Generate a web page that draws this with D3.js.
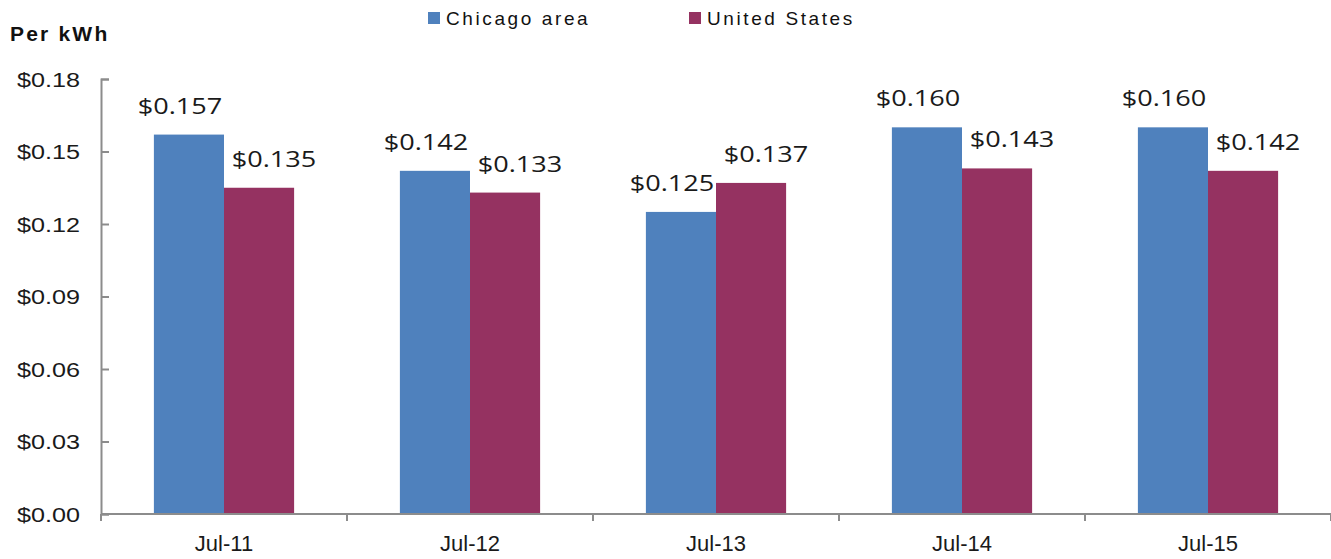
<!DOCTYPE html>
<html lang="en">
<head>
<meta charset="UTF-8" />
<title>Electricity price per kWh</title>
<script src="https://d3js.org/d3.v7.min.js"></script>
<style>
  body { margin: 0; background: #fff; }
  svg { display: block; }
  .axis text { font-family: "Liberation Sans", Arial, sans-serif; fill: #1a1a1a; }
  .axis path, .axis line { stroke: #8c8c8c; stroke-width: 2; }
</style>
</head>
<body>
<div id="chart"></div>
<script>
  const width = 1331;
  const height = 559;
  const marginLeft = 101;
  const marginRight = 0;
  const marginTop = 79;
  const marginBottom = 45;

  const categories = ["Jul-11", "Jul-12", "Jul-13", "Jul-14", "Jul-15"];
  const seriesNames = ["Chicago area", "United States"];
  const chicago = [0.157, 0.142, 0.125, 0.160, 0.160];
  const unitedStates = [0.135, 0.133, 0.137, 0.143, 0.142];
  const yTicks = [0, 0.03, 0.06, 0.09, 0.12, 0.15, 0.18];
  const colors = ["#4f81bd", "#953261"];

  const rows = categories.map((c, i) => ({ cat: c, values: [chicago[i], unitedStates[i]] }));

  const svg = d3.select("#chart").append("svg")
    .attr("width", width)
    .attr("height", height);

  const x = d3.scaleBand()
    .domain(categories)
    .range([marginLeft, width - marginRight])
    .paddingInner(0.43)
    .paddingOuter(0.215);

  const x1 = d3.scaleBand()
    .domain(seriesNames)
    .range([0, x.bandwidth()]);

  const y = d3.scaleLinear()
    .domain([0, 0.18])
    .range([height - marginBottom, marginTop]);

  // bars
  const groups = svg.append("g").selectAll("g")
    .data(rows)
    .join("g")
    .attr("transform", d => `translate(${x(d.cat)},0)`);

  const cells = d => d.values.map((v, i) => ({ name: seriesNames[i], v, i }));

  groups.selectAll("rect")
    .data(cells)
    .join("rect")
    .attr("x", d => x1(d.name))
    .attr("y", d => y(d.v))
    .attr("width", x1.bandwidth())
    .attr("height", d => y(0) - y(d.v))
    .attr("fill", d => colors[d.i]);

  // value labels (a bit left of blue bars, right of red ones, like the original)
  groups.selectAll("text")
    .data(cells)
    .join("text")
    .attr("transform", d => {
      const cx = x1(d.name) + x1.bandwidth() / 2 + (d.i === 0 ? -9 : 15);
      const cy = y(d.v) - 21;
      return `translate(${cx},${cy}) scale(1.23,1)`;
    })
    .attr("text-anchor", "middle")
    .attr("font-family", "'Open Sans', 'DejaVu Sans', sans-serif")
    .attr("font-size", 22)
    .attr("fill", "#1a1a1a")
    .text(d => "$" + d3.format(".3f")(d.v));

  // y axis
  const yAxisG = svg.append("g")
    .attr("class", "axis")
    .attr("transform", `translate(${marginLeft},0)`)
    .call(d3.axisRight(y).tickValues(yTicks).tickSize(8).tickFormat(d => "$" + d3.format(".2f")(d)));
  yAxisG.selectAll("text")
    .attr("x", 0)
    .attr("dy", null)
    .attr("font-size", 21)
    .attr("text-anchor", "end")
    .attr("transform", "translate(-21,7) scale(1.2,1)");

  // x axis
  const xAxisG = svg.append("g")
    .attr("class", "axis")
    .attr("transform", `translate(0,${height - marginBottom})`)
    .call(d3.axisBottom(x).tickSize(0).tickPadding(0));
  xAxisG.select(".domain").attr("d", `M${marginLeft},0H${width}`);
  xAxisG.selectAll(".tick text")
    .attr("y", 0)
    .attr("dy", null)
    .attr("transform", "translate(0,37)")
    .attr("font-size", 22);

  // category boundary ticks
  const step = x.step();
  const bounds = d3.range(categories.length + 1).map(i => marginLeft + i * step);
  xAxisG.selectAll(".bound")
    .data(bounds)
    .join("line")
    .attr("class", "bound")
    .attr("x1", d => d).attr("x2", d => d)
    .attr("y1", 0).attr("y2", 7);

  // unit label
  svg.append("text")
    .attr("x", 10)
    .attr("y", 41)
    .attr("font-family", "'Liberation Sans', Arial, sans-serif")
    .attr("font-weight", "bold")
    .attr("font-size", 21)
    .attr("letter-spacing", 2.2)
    .attr("fill", "#111")
    .text("Per kWh");

  // legend
  const legendX = [428, 689];
  const legend = svg.append("g").selectAll("g")
    .data(seriesNames)
    .join("g")
    .attr("transform", (d, i) => `translate(${legendX[i]},12)`);
  legend.append("rect")
    .attr("width", 12).attr("height", 12)
    .attr("fill", (d, i) => colors[i]);
  legend.append("text")
    .attr("x", 18)
    .attr("y", 13)
    .attr("font-family", "'Liberation Sans', Arial, sans-serif")
    .attr("font-size", 19)
    .attr("letter-spacing", 2.6)
    .attr("fill", "#111")
    .text(d => d);
</script>
</body>
</html>
